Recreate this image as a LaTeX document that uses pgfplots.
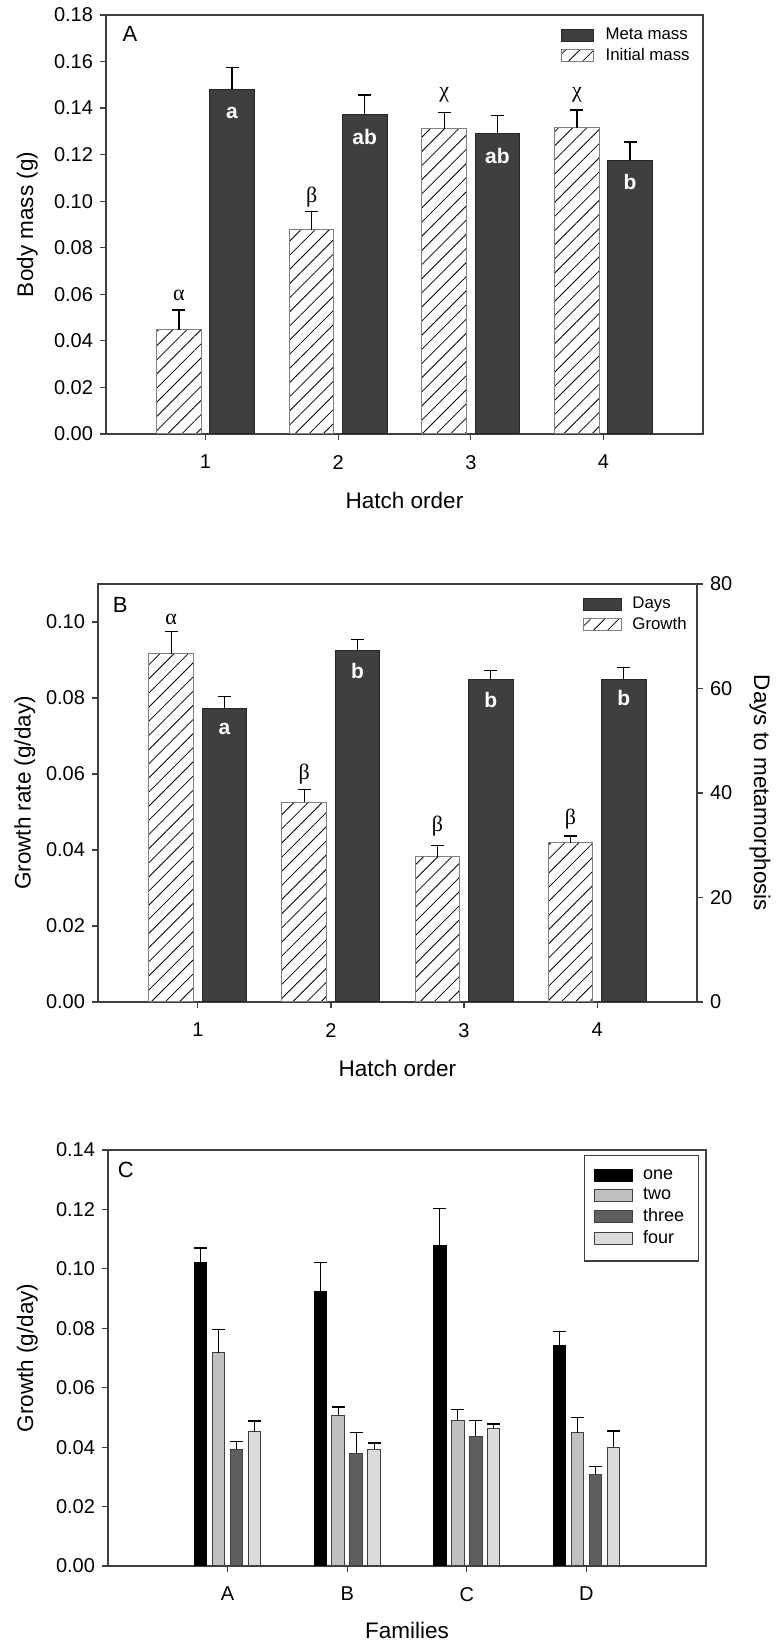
\documentclass[border=0pt]{standalone}
\usepackage{pgfplots}
\pgfplotsset{compat=1.18}
\usetikzlibrary{patterns.meta}
\usepackage{fontspec}
\setmainfont{Liberation Sans}
\newfontfamily\greekfont{Liberation Serif}
\definecolor{darkbar}{HTML}{3F3F3F}
\definecolor{axgray}{HTML}{404040}
\definecolor{cone}{HTML}{000000}
\definecolor{ctwo}{HTML}{C0C0C0}
\definecolor{cthree}{HTML}{5F5F5F}
\definecolor{cfour}{HTML}{DCDCDC}

\pgfplotsset{
  common/.style={
    scale only axis,
    anchor=south west,
    axis line style={axgray, line width=0.6pt},
    tick style={axgray, line width=0.6pt},
    tick align=outside,
    major tick length=3pt,
    tick pos=left,
    tick label style={font=\fontsize{10}{12}\selectfont},
    /pgf/number format/assume math mode=true,
    label style={font=\fontsize{11.25}{13}\selectfont},
    xticklabel style={yshift=-4pt},
    ybar,
    error bars/y dir=plus,
    error bars/y explicit,
    error bars/error bar style={black, line width=0.6pt},
    error bars/error mark options={rotate=90, mark size=3.25pt, line width=0.6pt, black},
    legend cell align=left,
    legend image code/.code={\draw[#1] (0pt,-3pt) rectangle (16pt,3pt);},
    clip=false,
  },
  yfixed/.style={yticklabel style={/pgf/number format/.cd, fixed, fixed zerofill, precision=2}},
  hatched/.style={pattern={Lines[angle=45,distance=5pt,line width=0.4pt]}, pattern color=black, draw=gray, line width=0.5pt},
  darkb/.style={fill=darkbar, draw=black!85, line width=0.5pt},
}

\begin{document}
\begin{tikzpicture}
\useasboundingbox (0,0) rectangle (388.5pt,824pt);

% ---------------- Panel A ----------------
\begin{axis}[common, yfixed,
  at={(53pt,607pt)}, width=298.5pt, height=209.5pt,
  xmin=0.25, xmax=4.75, ymin=0, ymax=0.18,
  xtick={1,2,3,4}, ytick={0,0.02,...,0.18},
  bar width=0.337,
  xlabel={Hatch order}, ylabel={Body mass (g)},
  xlabel style={at={(axis description cs:0.5,-0.1575)}, anchor=center},
  ylabel style={at={(axis description cs:-0.132,0.5)}, anchor=center},
  legend style={draw=none, fill=none, font=\fontsize{8.4}{10}\selectfont,
    at={(axis description cs:0.995,0.985)}, anchor=north east, row sep=0pt,
    nodes={inner ysep=1.3pt},
    /tikz/every odd column/.append style={column sep=4pt}},
]
\addplot[darkb, bar shift=0pt] coordinates {
  (1.2,0.1482) +- (0,0.0094)
  (2.2,0.1374) +- (0,0.0082)
  (3.2,0.1290) +- (0,0.0077)
  (4.2,0.1175) +- (0,0.0079)
};
\addlegendentry{Meta mass}
\addplot[hatched, bar shift=0pt] coordinates {
  (0.8,0.0448) +- (0,0.0085)
  (1.8,0.0878) +- (0,0.0077)
  (2.8,0.1311) +- (0,0.0069)
  (3.8,0.1316) +- (0,0.0076)
};
\addlegendentry{Initial mass}
\node[font=\fontsize{11}{13}\selectfont] at (axis description cs:0.04,0.955) {A};
\begin{scope}[every node/.style={text=white, font=\bfseries\fontsize{10.5}{12}\selectfont}]
\node at (axis cs:1.2,0.1377) {a};
\node at (axis cs:2.2,0.1276) {ab};
\node at (axis cs:3.2,0.1196) {ab};
\node at (axis cs:4.2,0.1084) {b};
\end{scope}
\begin{scope}[every node/.style={font=\greekfont\fontsize{11}{13}\selectfont}]
\node at (axis cs:0.8,0.0594) {α};
\node at (axis cs:1.8,0.1019) {β};
\node at (axis cs:2.8,0.1459) {χ};
\node at (axis cs:3.8,0.1456) {χ};
\end{scope}
\end{axis}

% ---------------- Panel B ----------------
\begin{axis}[common, yfixed,
  at={(49pt,323pt)}, width=299.5pt, height=209pt,
  xmin=0.25, xmax=4.75, ymin=0, ymax=0.11,
  xtick={1,2,3,4}, ytick={0,0.02,...,0.10},
  bar width=0.337,
  xlabel={Hatch order}, ylabel={Growth rate (g/day)},
  xlabel style={at={(axis description cs:0.5,-0.158)}, anchor=center},
  ylabel style={at={(axis description cs:-0.122,0.5)}, anchor=center},
]
\addplot[hatched, bar shift=0pt] coordinates {
  (0.8,0.0917) +- (0,0.0059)
  (1.8,0.0525) +- (0,0.0034)
  (2.8,0.0382) +- (0,0.0030)
  (3.8,0.0419) +- (0,0.0018)
};
\node[font=\fontsize{11}{13}\selectfont] at (axis description cs:0.037,0.95) {B};
\begin{scope}[every node/.style={font=\greekfont\fontsize{11}{13}\selectfont}]
\node at (axis cs:0.8,0.1007) {α};
\node at (axis cs:1.8,0.0600) {β};
\node at (axis cs:2.8,0.0463) {β};
\node at (axis cs:3.8,0.0482) {β};
\end{scope}
\end{axis}
\begin{axis}[common,
  at={(49pt,323pt)}, width=299.5pt, height=209pt,
  xmin=0.25, xmax=4.75, ymin=0, ymax=80,
  axis x line=none, axis y line*=right, ytick pos=right,
  ytick={0,20,...,80},
  bar width=0.337,
  ylabel={Days to metamorphosis},
  ylabel style={at={(axis description cs:1.105,0.5)}, anchor=center, rotate=180},
  legend style={draw=none, fill=none, font=\fontsize{8.4}{10}\selectfont,
    at={(axis description cs:1.0,0.985)}, anchor=north east, row sep=0pt,
    nodes={inner ysep=1.3pt},
    /tikz/every odd column/.append style={column sep=3pt}},
  legend image code/.code={\draw[#1] (0pt,-3pt) rectangle (19pt,3pt);},
]
\addplot[darkb, bar shift=0pt] coordinates {
  (1.2,56.1) +- (0,2.3)
  (2.2,67.3) +- (0,2.1)
  (3.2,61.7) +- (0,1.8)
  (4.2,61.8) +- (0,2.2)
};
\addlegendentry{Days}
\addlegendimage{hatched}
\addlegendentry{Growth}
\begin{scope}[every node/.style={text=white, font=\bfseries\fontsize{10.5}{12}\selectfont}]
\node at (axis cs:1.2,52.2) {a};
\node at (axis cs:2.2,63.4) {b};
\node at (axis cs:3.2,57.8) {b};
\node at (axis cs:4.2,58.2) {b};
\end{scope}
\end{axis}

% ---------------- Panel C ----------------
\begin{axis}[common, yfixed,
  at={(54pt,41pt)}, width=299pt, height=208pt,
  xmin=0, xmax=5, ymin=0, ymax=0.14,
  xtick={1,2,3,4}, xticklabels={A,B,C,D}, ytick={0,0.02,...,0.14},
  bar width=0.105,
  xlabel={Families}, ylabel={Growth (g/day)},
  xlabel style={at={(axis description cs:0.5,-0.154)}, anchor=center},
  ylabel style={at={(axis description cs:-0.135,0.5)}, anchor=center},
  legend style={draw=axgray, line width=0.6pt, fill=white, font=\fontsize{9}{10}\selectfont,
    at={(axis description cs:0.988,0.988)}, anchor=north east, row sep=0pt,
    nodes={inner ysep=1.5pt},
    inner xsep=5pt, inner ysep=5.5pt,
    /tikz/every odd column/.append style={column sep=3pt},
    /tikz/every even column/.append style={column sep=8pt}},
  legend image code/.code={\draw[#1] (0pt,-3pt) rectangle (19pt,3pt);},
]
\addplot[fill=cone, draw=black, line width=0.5pt, bar shift=0pt] coordinates {
  (0.775,0.1022) +- (0,0.0048)
  (1.775,0.0925) +- (0,0.0096)
  (2.775,0.1079) +- (0,0.0125)
  (3.775,0.0743) +- (0,0.0047)
};
\addlegendentry{one}
\addplot[fill=ctwo, draw=axgray, line width=0.5pt, bar shift=0pt] coordinates {
  (0.925,0.0717) +- (0,0.0079)
  (1.925,0.0508) +- (0,0.0027)
  (2.925,0.0491) +- (0,0.0035)
  (3.925,0.0448) +- (0,0.0053)
};
\addlegendentry{two}
\addplot[fill=cthree, draw=axgray, line width=0.5pt, bar shift=0pt] coordinates {
  (1.075,0.0393) +- (0,0.0027)
  (2.075,0.0377) +- (0,0.0073)
  (3.075,0.0437) +- (0,0.0054)
  (4.075,0.0307) +- (0,0.0028)
};
\addlegendentry{three}
\addplot[fill=cfour, draw=axgray, line width=0.5pt, bar shift=0pt] coordinates {
  (1.225,0.0452) +- (0,0.0036)
  (2.225,0.0393) +- (0,0.0021)
  (3.225,0.0463) +- (0,0.0015)
  (4.225,0.0399) +- (0,0.0055)
};
\addlegendentry{four}
\node[font=\fontsize{11}{13}\selectfont] at (axis description cs:0.03,0.952) {C};
\end{axis}
\end{tikzpicture}
\end{document}
